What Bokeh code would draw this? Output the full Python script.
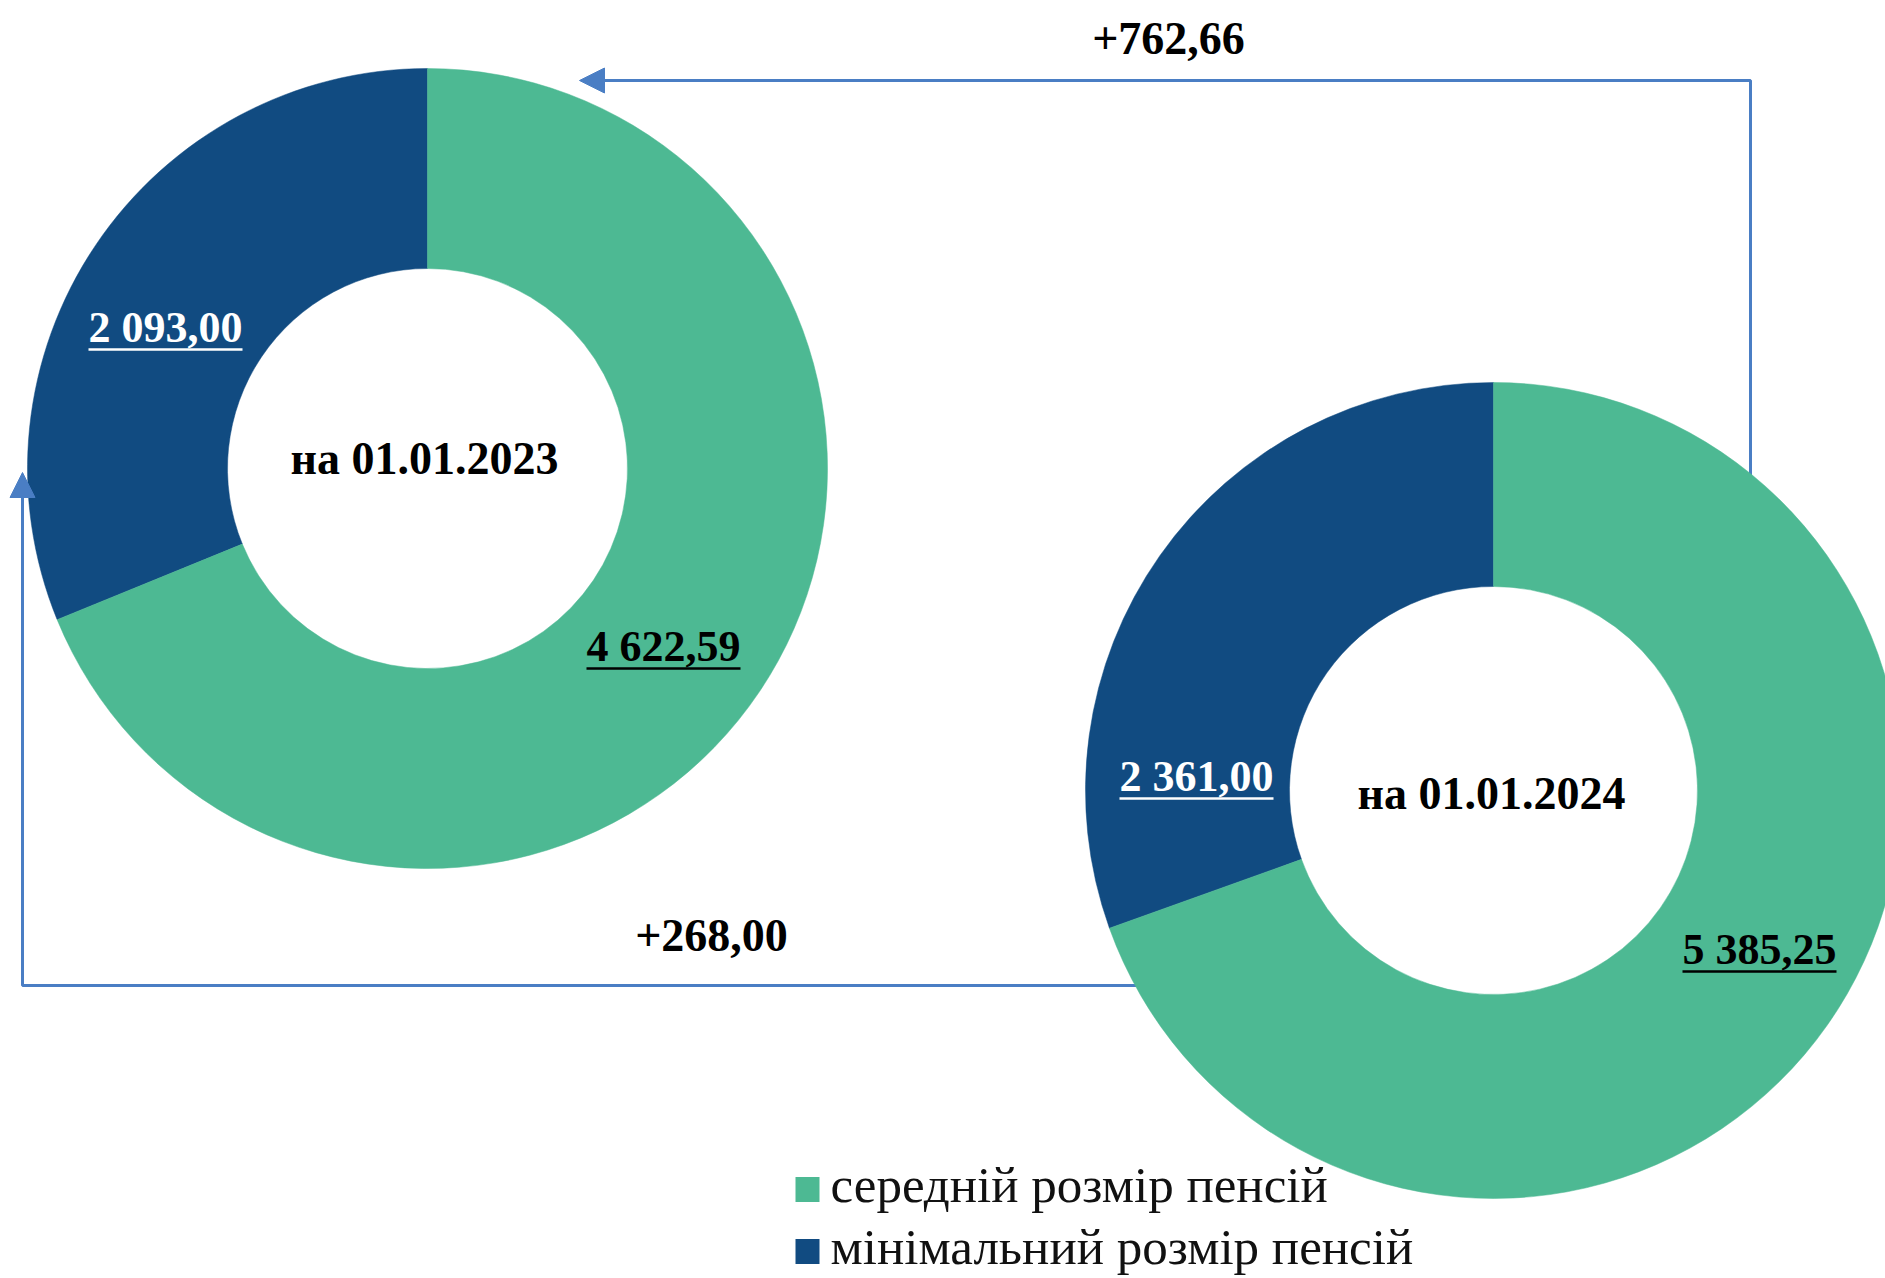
import math
from bokeh.plotting import figure
from bokeh.models import Range1d, ColumnDataSource, Arrow, NormalHead
from bokeh.core.properties import value
from bokeh.embed import file_html
from bokeh.resources import INLINE

# ---------------- data ----------------
dates = ["на 01.01.2023", "на 01.01.2024"]
series_names = ["середній розмір пенсій", "мінімальний розмір пенсій"]
avg_pension = [4622.59, 5385.25]
min_pension = [2093.00, 2361.00]

# ---------------- style / layout ----------------
GREEN = "#4db993"
BLUE = "#114b81"
ARROW = "#4a7ec4"
FONT = value("Liberation Serif")

W, H = 1885, 1278


def Y(py):                 # screen-pixel y -> data y (data y grows upwards)
    return H - py


def TY(py, size):          # baseline position compensated for text rendering offset
    return Y(py - 0.36 * size)


def fmt(v):
    return f"{v:,.2f}".replace(",", " ").replace(".", ",")


def text_width(s, size):
    em = 0.0
    for ch in s:
        if ch.isdigit():
            em += 0.5
        elif ch in " ,.":
            em += 0.25
        elif ch == "+":
            em += 0.57
        else:
            em += 0.5
    return em * size


centers = [(427, 468), (1493, 790)]
r_out = [400, 408]
r_in = [200, 204]

p = figure(width=W, height=H, x_range=Range1d(0, W), y_range=Range1d(0, H),
           output_backend="svg", toolbar_location=None, min_border=0, title=None)
p.axis.visible = False
p.grid.visible = False
p.outline_line_color = None
p.background_fill_color = "white"
p.border_fill_color = "white"

# ---------------- connectors (drawn below the donuts) ----------------
p.line([1750, 1750, 598], [Y(480), Y(80), Y(80)], line_color=ARROW, line_width=3)
p.add_layout(Arrow(end=NormalHead(size=25, fill_color=ARROW, line_color=ARROW),
                   x_start=600, y_start=Y(80), x_end=579, y_end=Y(80),
                   line_color=ARROW, line_width=3))
p.line([1140, 22, 22], [Y(985), Y(985), Y(492)], line_color=ARROW, line_width=3)
p.add_layout(Arrow(end=NormalHead(size=25, fill_color=ARROW, line_color=ARROW),
                   x_start=22, y_start=Y(494), x_end=22, y_end=Y(472),
                   line_color=ARROW, line_width=3))

# ---------------- donuts ----------------
wx, wy, wri, wro, wsa, wea, wcol = [], [], [], [], [], [], []
for i in range(2):
    total = avg_pension[i] + min_pension[i]
    a_blue = 2 * math.pi * min_pension[i] / total
    cx, cy = centers[i]
    start = math.pi / 2
    # minimum pension: from top, counter-clockwise
    wx.append(cx); wy.append(Y(cy)); wri.append(r_in[i]); wro.append(r_out[i])
    wsa.append(start); wea.append(start + a_blue); wcol.append(BLUE)
    # average pension: the rest
    wx.append(cx); wy.append(Y(cy)); wri.append(r_in[i]); wro.append(r_out[i])
    wsa.append(start + a_blue); wea.append(start + 2 * math.pi); wcol.append(GREEN)

src = ColumnDataSource(dict(x=wx, y=wy, ri=wri, ro=wro, sa=wsa, ea=wea, c=wcol))
p.annular_wedge(x="x", y="y", inner_radius="ri", outer_radius="ro",
                start_angle="sa", end_angle="ea", fill_color="c", line_color="c",
                line_width=0.5, direction="anticlock", source=src)

# ---------------- centre date labels ----------------
DS = 46
date_pos = [(424, 475), (1491, 810)]
p.text(x=[d[0] for d in date_pos], y=[TY(d[1], DS) for d in date_pos], text=dates,
       text_font=FONT, text_font_style="bold", text_font_size=f"{DS}px",
       text_color="black", text_align="center", text_baseline="alphabetic")

# ---------------- value labels (underlined) ----------------
VS = 44
val_texts = [fmt(min_pension[0]), fmt(avg_pension[0]), fmt(min_pension[1]), fmt(avg_pension[1])]
val_pos = [(165, 343), (663, 662), (1196, 792), (1759, 965)]
val_col = ["white", "black", "white", "black"]
p.text(x=[v[0] for v in val_pos], y=[TY(v[1], VS) for v in val_pos], text=val_texts,
       text_font=FONT, text_font_style="bold", text_font_size=f"{VS}px",
       text_color=val_col, text_align="center", text_baseline="alphabetic")
ux0, ux1, uy = [], [], []
for t, (vx, vy) in zip(val_texts, val_pos):
    w = text_width(t, VS)
    ux0.append(vx - w / 2); ux1.append(vx + w / 2); uy.append(Y(vy + 6))
p.segment(x0=ux0, y0=uy, x1=ux1, y1=uy, line_color=val_col, line_width=2.5)

# ---------------- change labels ----------------
CS = 46
d_avg = avg_pension[1] - avg_pension[0]
d_min = min_pension[1] - min_pension[0]
chg_texts = ["+" + fmt(d_avg), "+" + fmt(d_min)]
chg_pos = [(1168, 55), (711, 952)]
p.text(x=[c[0] for c in chg_pos], y=[TY(c[1], CS) for c in chg_pos], text=chg_texts,
       text_font=FONT, text_font_style="bold", text_font_size=f"{CS}px",
       text_color="black", text_align="center", text_baseline="alphabetic")

# ---------------- legend ----------------
LS = 51
leg_y = [1189, 1251]
p.rect(x=[807, 807], y=[Y(v) for v in leg_y], width=24, height=25,
       fill_color=[GREEN, BLUE], line_color=None)
p.text(x=[830, 830], y=[TY(v + 14, LS) for v in leg_y], text=series_names,
       text_font=FONT, text_font_size=f"{LS}px", text_color="#111111",
       text_align="left", text_baseline="alphabetic")

open("out.html", "w").write(file_html(p, INLINE))
